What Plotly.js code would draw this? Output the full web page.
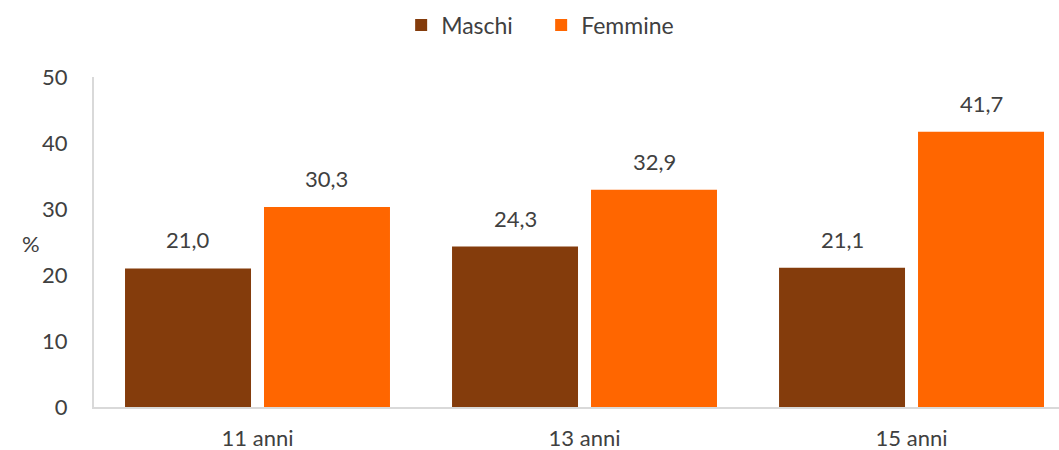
<!DOCTYPE html>
<html>
<head>
<meta charset="utf-8">
<script src="https://cdn.plot.ly/plotly-3.0.1.min.js"></script>
<style>html,body{margin:0;padding:0;background:#fff;}#chart{width:1059px;height:450px;}</style>
</head>
<body>
<div id="chart"></div>
<script>
const categories = ["11 anni", "13 anni", "15 anni"];
const maschi = [21.0, 24.3, 21.1];
const femmine = [30.3, 32.9, 41.7];
const seriesNames = ["Maschi", "Femmine"];
const yTicks = [0, 10, 20, 30, 40, 50];

const FONT = "Lato, 'Open Sans', sans-serif";
const TXT = "#404040";
const colors = ["#843C0C", "#FF6600"];
const FS = 22;

const traces = [maschi, femmine].map((vals, k) => ({
  type: "bar",
  name: seriesNames[k],
  x: categories,
  y: vals,
  marker: {color: colors[k], line: {width: 0}},
  hoverinfo: "skip"
}));

const off = 0.2125;
const annotations = [];
[maschi, femmine].forEach((vals, k) => {
  vals.forEach((v, i) => {
    annotations.push({
      x: i + (k === 0 ? -off : off), y: v, xref: "x", yref: "y",
      text: v.toFixed(1).replace(".", ","),
      showarrow: false, yanchor: "bottom", yshift: 13,
      font: {family: FONT, size: FS, color: TXT}
    });
  });
});
annotations.push({
  x: (20 - 94) / (1059 - 94), y: (407 - 243) / (407 - 77),
  xref: "paper", yref: "paper", text: "%", showarrow: false,
  font: {family: FONT, size: FS, color: TXT}
});

const layout = {
  width: 1059, height: 450,
  margin: {l: 94, r: 0, t: 77, b: 43, autoexpand: false},
  paper_bgcolor: "#ffffff", plot_bgcolor: "#ffffff",
  separators: ",.",
  barmode: "group", bargap: 0.15, bargroupgap: 0.0935,
  font: {family: FONT, size: FS, color: TXT},
  showlegend: true,
  legend: {
    orientation: "h", x: 0.511, xref: "container", xanchor: "center",
    y: 1 - 25 / 450, yref: "container", yanchor: "middle",
    entrywidth: 95,
    font: {family: FONT, size: 23, color: TXT}, traceorder: "normal"
  },
  xaxis: {
    type: "category", range: [-0.5, 2.451],
    showline: true, linecolor: "#d9d9d9", linewidth: 2,
    showgrid: false, zeroline: false,
    ticks: "outside", ticklen: 11, tickcolor: "rgba(0,0,0,0)",
    tickfont: {family: FONT, size: FS, color: TXT}
  },
  yaxis: {
    range: [0, 50], tickvals: yTicks, ticktext: yTicks.map(String),
    showline: true, linecolor: "#d9d9d9", linewidth: 2,
    showgrid: false, zeroline: false,
    ticks: "outside", ticklen: 20, tickcolor: "rgba(0,0,0,0)",
    tickfont: {family: FONT, size: FS, color: TXT}
  },
  annotations: annotations
};

Plotly.newPlot("chart", traces, layout, {displayModeBar: false, staticPlot: true});
</script>
</body>
</html>
